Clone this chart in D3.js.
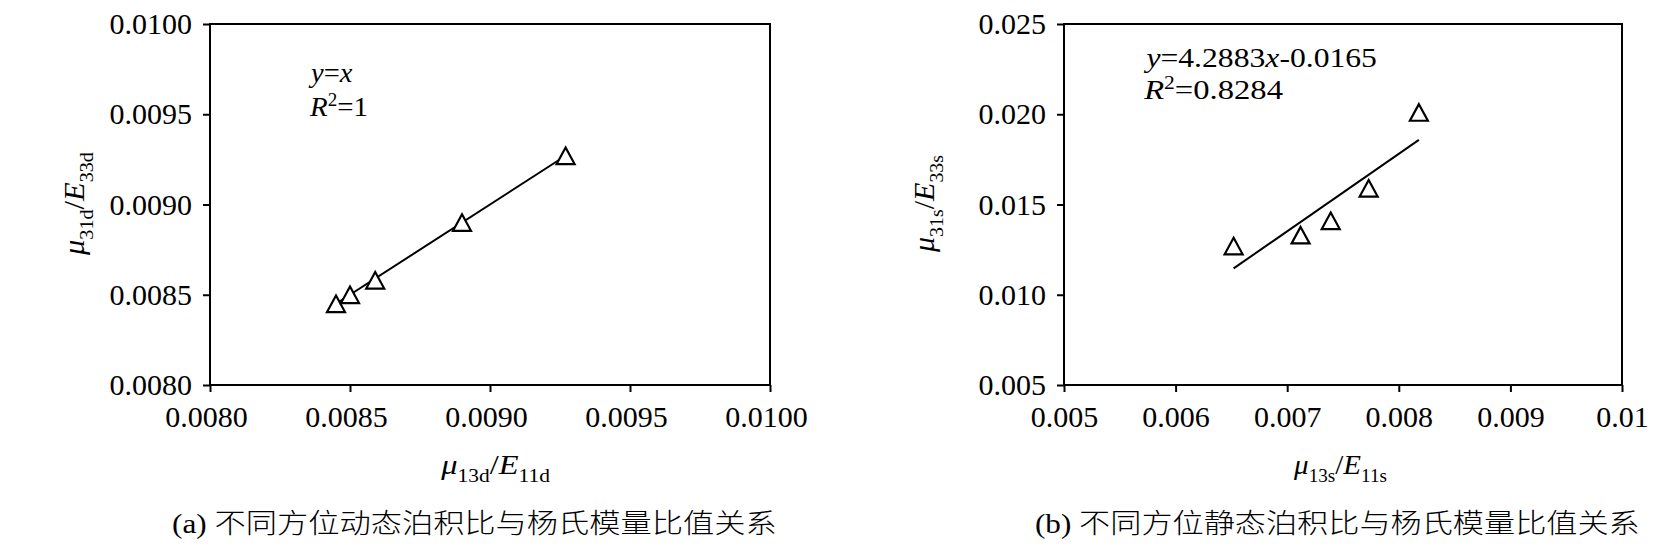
<!DOCTYPE html>
<html><head><meta charset="utf-8">
<script src="https://cdn.jsdelivr.net/npm/d3@7"></script>
<style>
body{margin:0;background:#fff}
svg{display:block}
text{font-family:"Liberation Serif","Times New Roman",serif;fill:#000}
</style>
</head><body>
<svg id="c" width="1654" height="553"></svg>
<script>
// ---- data ----
const dynX = [0.00845, 0.00850, 0.00859, 0.00890, 0.00927];
const dynY = [0.00845, 0.00850, 0.00858, 0.00890, 0.00927];
const statX = [0.00652, 0.00712, 0.00739, 0.00773, 0.00818];
const statY = [0.0127, 0.0133, 0.0141, 0.0159, 0.0201];
const dynFit = [1, 0];            // slope, intercept
const statFit = [4.2883, -0.0165];
const dynTicks = [0.0080, 0.0085, 0.0090, 0.0095, 0.0100];
const dynTickLabels = ["0.0080", "0.0085", "0.0090", "0.0095", "0.0100"];
const statXTicks = [0.005, 0.006, 0.007, 0.008, 0.009, 0.010];
const statXTickLabels = ["0.005", "0.006", "0.007", "0.008", "0.009", "0.01"];
const statYTicks = [0.005, 0.010, 0.015, 0.020, 0.025];
const statYTickLabels = ["0.005", "0.010", "0.015", "0.020", "0.025"];

const svg = d3.select("#c");

function rich(parent, parts, size) {
  const t = parent.append("text").attr("x", 0).attr("y", 0);
  let cur = 0;
  parts.forEach(p => {
    const off = p.sub ? size * 0.3 : p.sup ? -size * 0.36 : 0;
    const s = (p.sub || p.sup) ? size * 0.66 : (p.size || size);
    t.append("tspan").attr("dy", off - cur).attr("font-size", s)
      .attr("font-style", p.i ? "italic" : "normal")
      .attr("font-family", p.f || null)
      .attr("font-weight", p.w || null)
      .text(p.t);
    cur = off;
  });
  return t;
}
function place(parent, parts, size, o) {
  const g = parent.append("g");
  const inner = g.append("g");
  const t = rich(inner, parts, size);
  const bb = t.node().getBBox();
  const k = o.w ? o.w / bb.width : 1;
  const W = bb.width * k;
  const ax = o.anchor === "middle" ? -W / 2 : 0;
  g.attr("transform", `translate(${o.x},${o.y})` + (o.rotate ? ` rotate(${o.rotate})` : ""));
  inner.attr("transform", `translate(${ax - bb.x * k},0) scale(${k},1)`);
}

const triangle = {
  draw(ctx, size) {
    const w = Math.sqrt(size), h = w * 0.92;
    ctx.moveTo(0, -h / 2); ctx.lineTo(w / 2, h / 2); ctx.lineTo(-w / 2, h / 2); ctx.closePath();
  }
};

function panel(cfg) {
  const x = d3.scaleLinear().domain(cfg.xd).range([cfg.x0, cfg.x1]);
  const y = d3.scaleLinear().domain(cfg.yd).range([cfg.y1, cfg.y0]);
  const g = svg.append("g");
  const ax = g.append("g").attr("transform", `translate(0,${cfg.y1})`)
    .call(d3.axisBottom(x).tickValues(cfg.xt).tickFormat((d, i) => cfg.xl[i])
      .tickSize(7).tickSizeOuter(0).tickPadding(14));
  ax.selectAll("text").attr("dx", cfg.xdx || 0);
  const ay = g.append("g").attr("transform", `translate(${cfg.x0},0)`)
    .call(d3.axisLeft(y).tickValues(cfg.yt).tickFormat((d, i) => cfg.yl[i])
      .tickSize(7).tickSizeOuter(0).tickPadding(11));
  [ax, ay].forEach(a => {
    a.attr("font-family", null);
    a.select(".domain").remove();
    a.selectAll("line").attr("stroke", "#000").attr("stroke-width", 2);
    a.selectAll("text").attr("font-size", 30).attr("fill", "#000")
      .attr("font-family", "'Liberation Serif','Times New Roman',serif");
  });
  g.append("rect").attr("x", cfg.x0).attr("y", cfg.y0)
    .attr("width", cfg.x1 - cfg.x0).attr("height", cfg.y1 - cfg.y0)
    .attr("fill", "none").attr("stroke", "#000").attr("stroke-width", 2);
  const xmin = d3.min(cfg.xs), xmax = d3.max(cfg.xs);
  const f = v => cfg.fit[0] * v + cfg.fit[1];
  g.append("line").attr("x1", x(xmin)).attr("y1", y(f(xmin)))
    .attr("x2", x(xmax)).attr("y2", y(f(xmax)))
    .attr("stroke", "#000").attr("stroke-width", 2);
  g.selectAll("path.pt").data(cfg.xs).enter().append("path").attr("class", "pt")
    .attr("d", d3.symbol(triangle, 324))
    .attr("transform", (d, i) => `translate(${x(d)},${y(cfg.ys[i])})`)
    .attr("fill", "#fff").attr("stroke", "#000").attr("stroke-width", 2.2);
}

panel({x0: 210, x1: 770, y0: 24, y1: 385, xd: [0.008, 0.010], yd: [0.008, 0.010],
  xt: dynTicks, xl: dynTickLabels, yt: dynTicks, yl: dynTickLabels,
  xs: dynX, ys: dynY, fit: dynFit, xdx: -4});
panel({x0: 1064, x1: 1622, y0: 24, y1: 385, xd: [0.005, 0.010], yd: [0.005, 0.025],
  xt: statXTicks, xl: statXTickLabels, yt: statYTicks, yl: statYTickLabels,
  xs: statX, ys: statY, fit: statFit});

// axis titles
place(svg, [{t: "μ", i: true}, {t: "13d", sub: true}, {t: "/"}, {t: "E", i: true}, {t: "11d", sub: true}],
  27, {x: 495, y: 474, w: 110, anchor: "middle"});
place(svg, [{t: "μ", i: true}, {t: "13s", sub: true}, {t: "/"}, {t: "E", i: true}, {t: "11s", sub: true}],
  27, {x: 1340, y: 474, w: 94, anchor: "middle"});
place(svg, [{t: "μ", i: true}, {t: "31d", sub: true}, {t: "/"}, {t: "E", i: true}, {t: "33d", sub: true}],
  30, {x: 84, y: 204, w: 104, anchor: "middle", rotate: -90});
place(svg, [{t: "μ", i: true}, {t: "31s", sub: true}, {t: "/"}, {t: "E", i: true}, {t: "33s", sub: true}],
  30, {x: 934, y: 204, w: 98, anchor: "middle", rotate: -90});

// annotations
place(svg, [{t: "y", i: true}, {t: "="}, {t: "x", i: true}], 28, {x: 308, y: 82, w: 45});
place(svg, [{t: "R", i: true}, {t: "2", sup: true}, {t: "=1"}], 28, {x: 309, y: 116, w: 59});
place(svg, [{t: "y", i: true}, {t: "=4.2883"}, {t: "x", i: true}, {t: "-0.0165"}], 28, {x: 1143, y: 67, w: 234});
place(svg, [{t: "R", i: true}, {t: "2", sup: true}, {t: "=0.8284"}], 28, {x: 1143, y: 99, w: 140});

// captions
const cjk = "'Noto Sans CJK SC',sans-serif";
place(svg, [{t: "(a) "}, {t: "不同方位动态泊积比与杨氏模量比值关系", f: cjk, w: 300}], 27, {x: 172, y: 533, w: 605});
place(svg, [{t: "(b) "}, {t: "不同方位静态泊积比与杨氏模量比值关系", f: cjk, w: 300}], 27, {x: 1035, y: 533, w: 605});
</script>
</body></html>
